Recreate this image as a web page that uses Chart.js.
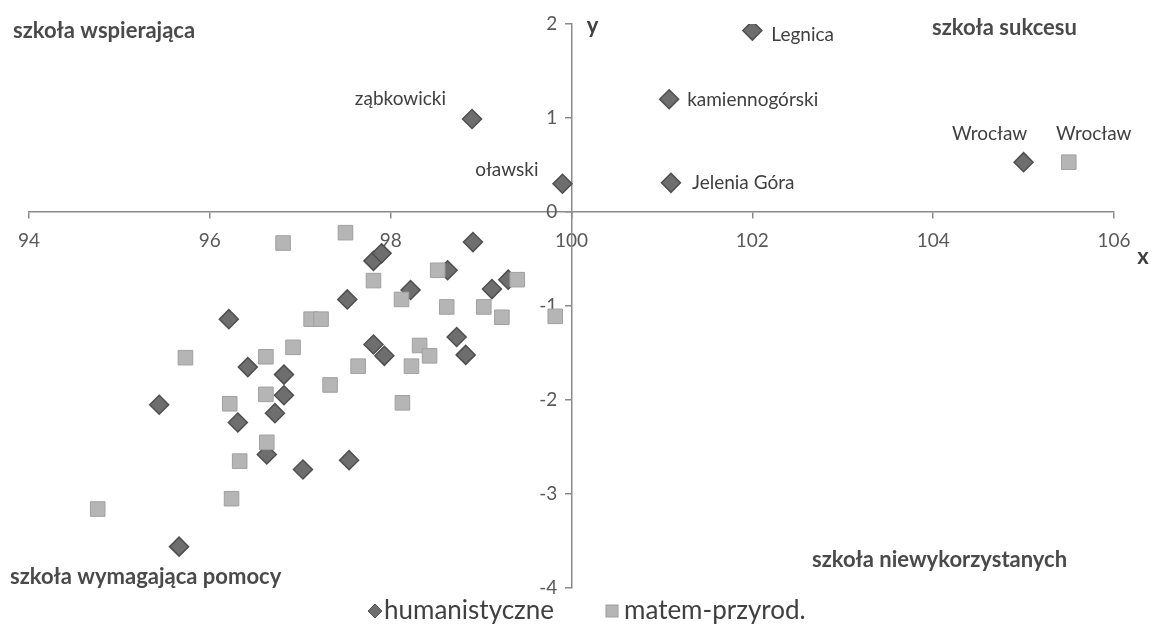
<!DOCTYPE html>
<html lang="pl">
<head>
<meta charset="utf-8">
<title>Typologia szkół – powiaty</title>
<script src="https://cdn.jsdelivr.net/npm/chart.js@4.4.1/dist/chart.umd.min.js"></script>
<style>
  html, body { margin: 0; padding: 0; background: #fff; }
  #chart { display: block; }
</style>
</head>
<body>
<canvas id="chart" width="1152" height="626"></canvas>
<script>
// humanistyczne (diamonds)
const humX = [102.0, 101.08, 101.1, 98.9, 99.9, 105.0,
  98.91, 98.63, 98.22, 99.12, 99.3, 97.52, 98.73, 98.83,
  97.81, 97.9, 97.81, 97.93, 96.21, 96.42, 96.82, 96.82,
  95.44, 96.72, 96.31, 96.63, 97.03, 97.54, 95.66];
const humY = [1.93, 1.2, 0.31, 0.99, 0.3, 0.53,
  -0.32, -0.62, -0.83, -0.82, -0.72, -0.93, -1.33, -1.52,
  -0.52, -0.44, -1.41, -1.53, -1.14, -1.65, -1.73, -1.95,
  -2.05, -2.14, -2.24, -2.58, -2.74, -2.64, -3.56];
const humNames = ['Legnica', 'kamiennogórski', 'Jelenia Góra', 'ząbkowicki', 'oławski', 'Wrocław'];

// matem-przyrod. (squares)
const matX = [105.5,
  96.81, 97.5, 97.81, 98.12, 97.12, 97.23, 96.92, 95.73, 96.62,
  97.64, 97.33, 96.62, 96.22, 96.63, 96.33, 96.24, 94.76,
  98.52, 98.62, 99.03, 99.23, 99.4, 99.82, 98.32, 98.43, 98.23, 98.13];
const matY = [0.53,
  -0.33, -0.22, -0.73, -0.93, -1.14, -1.14, -1.44, -1.55, -1.54,
  -1.64, -1.84, -1.94, -2.04, -2.45, -2.65, -3.05, -3.16,
  -0.62, -1.01, -1.01, -1.12, -0.72, -1.11, -1.42, -1.53, -1.64, -2.03];
const matNames = ['Wrocław'];

const seriesNames = ['humanistyczne', 'matem-przyrod.'];
const xTicks = [94, 96, 98, 100, 102, 104, 106];
const yTicks = [-4, -3, -2, -1, 0, 1, 2];

const quadrants = [
  { text: 'szkoła wspierająca', x: 13, y: 38 },
  { text: 'szkoła sukcesu', x: 932, y: 35 },
  { text: 'szkoła wymagająca pomocy', x: 10, y: 584 },
  { text: 'szkoła niewykorzystanych', x: 812, y: 567 }
];

// where each named point puts its label
const humPlace = {
  'Legnica': { align: 'left', dx: 19, dy: 4 },
  'kamiennogórski': { align: 'left', dx: 18, dy: 1 },
  'Jelenia Góra': { align: 'left', dx: 21, dy: 0 },
  'ząbkowicki': { align: 'right', dx: -26, dy: -20 },
  'oławski': { align: 'right', dx: -24, dy: -14 },
  'Wrocław': { align: 'center', dx: -34, dy: -28 }
};
const matPlace = {
  'Wrocław': { align: 'center', dx: 25, dy: -28 }
};

const toPoints = (xs, ys) => xs.map((v, i) => ({ x: v, y: ys[i] }));

const FONT = 'Lato, "Liberation Sans", sans-serif';
const TEXT = '#404040';
const AXIS = '#8a8a8a';

const extras = {
  id: 'extras',
  afterDatasetsDraw(chart) {
    const { ctx } = chart;
    const xs = chart.scales.x, ys = chart.scales.y;
    ctx.save();

    // point labels
    ctx.font = '19px ' + FONT;
    ctx.fillStyle = TEXT;
    ctx.textBaseline = 'middle';
    [[humNames, humPlace], [matNames, matPlace]].forEach(([names, place], di) => {
      const meta = chart.getDatasetMeta(di);
      names.forEach((name, i) => {
        const el = meta.data[i];
        const p = place[name];
        ctx.textAlign = p.align;
        ctx.fillText(name, el.x + p.dx, el.y + p.dy);
      });
    });

    // axis names
    ctx.font = 'bold 22px ' + FONT;
    ctx.textAlign = 'center';
    ctx.fillText('y', xs.getPixelForValue(100) + 21, ys.top + 2);
    ctx.fillText('x', xs.right + 29, ys.getPixelForValue(0) + 45);

    // quadrant names
    ctx.font = 'bold 22px ' + FONT;
    ctx.textAlign = 'left';
    ctx.textBaseline = 'alphabetic';
    ctx.fillStyle = '#4a4a4a';
    quadrants.forEach(q => ctx.fillText(q.text, q.x, q.y));

    // legend
    const ly = 611;
    ctx.font = '26px ' + FONT;
    ctx.textBaseline = 'middle';
    ctx.beginPath();
    ctx.moveTo(375, ly - 7); ctx.lineTo(382, ly); ctx.lineTo(375, ly + 7); ctx.lineTo(368, ly);
    ctx.closePath();
    ctx.fillStyle = '#6e6e6e';
    ctx.fill();
    ctx.strokeStyle = '#555';
    ctx.lineWidth = 1;
    ctx.stroke();
    ctx.fillStyle = TEXT;
    ctx.fillText(seriesNames[0], 384, ly);

    ctx.fillStyle = '#b5b5b5';
    ctx.fillRect(606, ly - 6, 12, 12);
    ctx.strokeStyle = '#9e9e9e';
    ctx.strokeRect(606, ly - 6, 12, 12);
    ctx.fillStyle = TEXT;
    ctx.fillText(seriesNames[1], 624, ly);

    ctx.restore();
  }
};

new Chart(document.getElementById('chart'), {
  type: 'scatter',
  data: {
    datasets: [
      {
        label: seriesNames[0],
        data: toPoints(humX, humY),
        pointStyle: 'rectRot',
        pointRadius: 9.5,
        pointHoverRadius: 9.5,
        backgroundColor: '#6e6e6e',
        borderColor: '#4f4f4f',
        borderWidth: 1.5,
        order: 1
      },
      {
        label: seriesNames[1],
        data: toPoints(matX, matY),
        pointStyle: 'rect',
        pointRadius: 10.3,
        pointHoverRadius: 10.3,
        backgroundColor: '#b5b5b5',
        borderColor: '#a0a0a0',
        borderWidth: 1,
        order: 0
      }
    ]
  },
  options: {
    responsive: false,
    animation: false,
    layout: { padding: { left: 29, right: 38, top: 24, bottom: 38 } },
    plugins: {
      legend: { display: false },
      tooltip: { enabled: false }
    },
    scales: {
      x: {
        type: 'linear',
        min: 94,
        max: 106,
        position: { y: 0 },
        afterBuildTicks: s => { s.ticks = xTicks.map(v => ({ value: v })); },
        ticks: { color: '#595959', font: { family: FONT, size: 19 }, padding: 11 },
        grid: { drawOnChartArea: false, tickLength: 6, color: AXIS, lineWidth: 1.5 },
        border: { color: AXIS, width: 1.5 }
      },
      y: {
        type: 'linear',
        min: -4,
        max: 2,
        position: { x: 100 },
        afterBuildTicks: s => { s.ticks = yTicks.map(v => ({ value: v })); },
        // labels of a value-positioned axis sit flush on the line, keep a gap
        ticks: { color: '#595959', font: { family: FONT, size: 19 }, callback: v => v + '\u2003' },
        grid: { drawOnChartArea: false, tickLength: 6, color: AXIS, lineWidth: 1.5 },
        border: { color: AXIS, width: 1.5 }
      }
    }
  },
  plugins: [extras]
});
</script>
</body>
</html>
